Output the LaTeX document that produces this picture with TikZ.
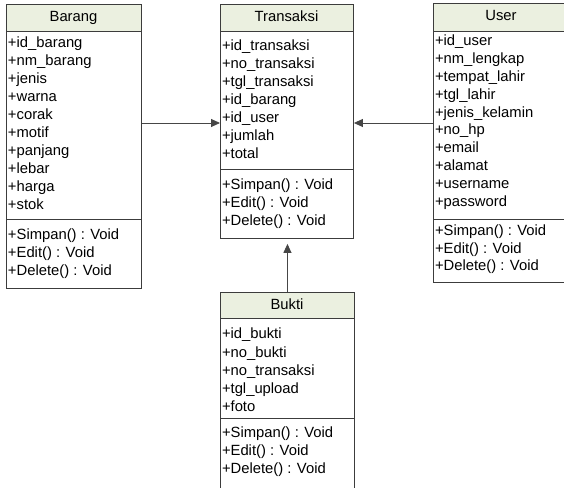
\documentclass[tikz,border=0pt]{standalone}
\usepackage{fontspec}
\setmainfont{Liberation Sans}
\usetikzlibrary{arrows.meta,calc}
\definecolor{headfill}{RGB}{235,240,224}
\definecolor{boxline}{RGB}{60,60,60}
\definecolor{linegray}{RGB}{70,70,70}
\newcommand{\umlfont}{\fontsize{14.8bp}{18bp}\selectfont}
\tikzset{
  umlhead/.style={draw=boxline, fill=headfill, line width=0.9bp, inner sep=0, anchor=north west},
  umlpart/.style={draw=boxline, fill=white, line width=0.9bp, inner sep=0, anchor=north west},
  umlrow/.style={inner sep=0, anchor=west, text height=10.8bp, text depth=3.2bp, font=\umlfont},
  umltitle/.style={inner sep=0, text height=10.8bp, text depth=3.2bp, font=\umlfont},
  assoc/.style={draw=linegray, line width=0.9bp, -{Triangle[length=9bp,width=8bp]}}
}
\begin{document}
\begin{tikzpicture}[x=1bp, y=-1bp]
\useasboundingbox (0,0) rectangle (564,488);
\clip (0,0) rectangle (564,488);

% ---- Barang ----
\node[umlhead, minimum width=135bp, minimum height=27bp] (barang-head) at (6,4) {};
\node[umlpart, minimum width=135bp, minimum height=188bp] (barang-attr) at (6,31) {};
\node[umlpart, minimum width=135bp, minimum height=69bp] (barang-meth) at (6,219) {};
\node[umltitle] (barang-title) at (73.5,18) {Barang};
\foreach \t [count=\i] in {+id\_barang,+nm\_barang,+jenis,+warna,+corak,+motif,+panjang,+lebar,+harga,+stok}
  \node[umlrow] (barang-a\i) at (7.8,{43.3+18*(\i-1)}) {\t};
\foreach \t [count=\i] in {{+Simpan() : Void},{+Edit() : Void},{+Delete() : Void}}
  \node[umlrow] (barang-m\i) at (7.8,{236+18*(\i-1)}) {\t};

% ---- Transaksi ----
\node[umlhead, minimum width=133bp, minimum height=27bp] (transaksi-head) at (220,4) {};
\node[umlpart, minimum width=133bp, minimum height=138bp] (transaksi-attr) at (220,31) {};
\node[umlpart, minimum width=133bp, minimum height=69bp] (transaksi-meth) at (220,169) {};
\node[umltitle] (transaksi-title) at (286.5,17.5) {Transaksi};
\foreach \t [count=\i] in {+id\_transaksi,+no\_transaksi,+tgl\_transaksi,+id\_barang,+id\_user,+jumlah,+total}
  \node[umlrow] (transaksi-a\i) at (221.8,{46.7+18*(\i-1)}) {\t};
\foreach \t [count=\i] in {{+Simpan() : Void},{+Edit() : Void},{+Delete() : Void}}
  \node[umlrow] (transaksi-m\i) at (221.8,{185.5+18*(\i-1)}) {\t};

% ---- User ----
\node[umlhead, minimum width=134bp, minimum height=28bp] (user-head) at (433,3) {};
\node[umlpart, minimum width=134bp, minimum height=188bp] (user-attr) at (433,31) {};
\node[umlpart, minimum width=134bp, minimum height=63bp] (user-meth) at (433,219) {};
\node[umltitle] (user-title) at (501,17) {User};
\foreach \t [count=\i] in {+id\_user,+nm\_lengkap,+tempat\_lahir,+tgl\_lahir,+jenis\_kelamin,+no\_hp,+email,+alamat,+username,+password}
  \node[umlrow] (user-a\i) at (434.8,{41.7+17.9*(\i-1)}) {\t};
\foreach \t [count=\i] in {{+Simpan() : Void},{+Edit() : Void},{+Delete() : Void}}
  \node[umlrow] (user-m\i) at (434.8,{231.7+17.5*(\i-1)}) {\t};

% ---- Bukti ----
\node[umlhead, minimum width=134bp, minimum height=26bp] (bukti-head) at (220,292) {};
\node[umlpart, minimum width=134bp, minimum height=100bp] (bukti-attr) at (220,318) {};
\node[umlpart, minimum width=134bp, minimum height=69.5bp] (bukti-meth) at (220,418) {};
\node[umltitle] (bukti-title) at (287,305.5) {Bukti};
\foreach \t [count=\i] in {+id\_bukti,+no\_bukti,+no\_transaksi,+tgl\_upload,+foto}
  \node[umlrow] (bukti-a\i) at (221.8,{335+18.25*(\i-1)}) {\t};
\foreach \t [count=\i] in {{+Simpan() : Void},{+Edit() : Void},{+Delete() : Void}}
  \node[umlrow] (bukti-m\i) at (221.8,{433.5+18.25*(\i-1)}) {\t};

% ---- associations ----
\draw[assoc] (barang-attr.east |- 0,123) -- (transaksi-attr.west |- 0,123);
\draw[assoc] (user-attr.west |- 0,123) -- (transaksi-attr.east |- 0,123);
\draw[assoc, shorten >=5bp] (bukti-head.north) -- (bukti-head.north |- transaksi-meth.south);
\end{tikzpicture}
\end{document}
